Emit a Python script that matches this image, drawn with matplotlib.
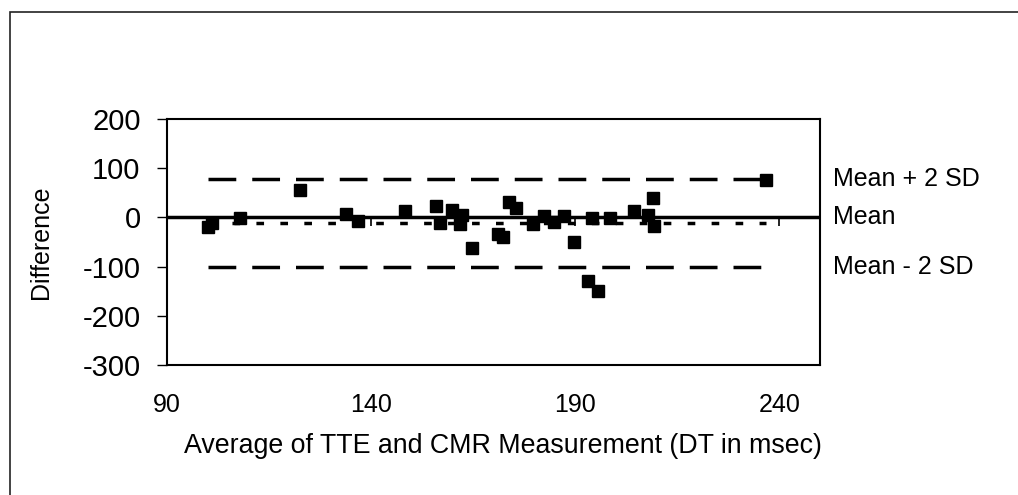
import numpy as np
import matplotlib
matplotlib.use('Agg')
import matplotlib.pyplot as plt
from matplotlib.patches import Rectangle
from matplotlib.transforms import blended_transform_factory

plt.rcParams['font.family'] = ['Liberation Sans', 'DejaVu Sans']
plt.rcParams['axes.unicode_minus'] = False  # plain hyphen as in the original

# Bland-Altman data: average of the two measurements vs difference
avg_dt = [100.0, 101.0, 108.0, 122.6, 133.9, 136.9, 148.2, 155.9, 156.9, 159.9,
          162.2, 161.8, 164.8, 171.2, 172.3, 173.7, 175.5, 179.8, 182.4, 184.8,
          187.2, 189.8, 193.1, 194.1, 195.6, 198.5, 204.5, 207.8, 209.0, 209.3,
          236.7]
diff_dt = [-20, -11, -2, 56, 7, -7, 12, 23, -11, 15,
           4, -14, -62, -34, -40, 31, 19, -13, 3, -10,
           3, -50, -129, -1, -149, -1, 13, 4, 39, -17,
           76]

mean_diff = -11
sd_diff = 44.5
x_ticks = [90, 140, 190, 240]
y_ticks = [-300, -200, -100, 0, 100, 200]
limit_labels = ['Mean + 2 SD', 'Mean', 'Mean - 2 SD']

fig = plt.figure(figsize=(10.18, 4.95), dpi=100)
ax = fig.add_axes([167 / 1018, 1 - 365 / 495, 653 / 1018, 246 / 495])

x0, x1 = min(avg_dt), max(avg_dt)
upper = mean_diff + 2 * sd_diff
lower = mean_diff - 2 * sd_diff

# limits of agreement and mean
lw = 2.5
ax.plot([x0, x1], [upper, upper], color='black', lw=lw, dashes=(8.0, 4.6), zorder=2)
ax.plot([x0, x1], [lower, lower], color='black', lw=lw, dashes=(8.0, 4.6), zorder=2)
ax.plot([x0, x1], [mean_diff, mean_diff], color='black', lw=lw, dashes=(2.2, 4.7), zorder=2)

# zero axis line with its tick marks
ax.axhline(0, color='black', lw=2.5, zorder=3)
ax.vlines(x_ticks, -17, 0, color='black', lw=1.2, zorder=3)

ax.plot(avg_dt, diff_dt, ls='none', marker='s', ms=9, color='black', zorder=4)

ax.set_xlim(90, 250)
ax.set_ylim(-300, 200)
ax.set_xticks(x_ticks)
ax.set_yticks(y_ticks)
ax.tick_params(axis='x', length=0, pad=20, labelsize=18)
ax.tick_params(axis='y', direction='out', length=7, width=1, pad=12, labelsize=21)
for s in ax.spines.values():
    s.set_linewidth(1.5)

ax.set_xlabel('Average of TTE and CMR Measurement (DT in msec)', fontsize=19.3)
ax.xaxis.set_label_coords(0.515, -0.278)
ax.set_ylabel('Difference', fontsize=18)
ax.yaxis.set_label_coords(-0.175, 0.5)

# labels on the right
tr = blended_transform_factory(ax.transAxes, ax.transData)
for lab, yv in zip(limit_labels, [upper, 0, lower]):
    ax.text(1.02, yv, lab, transform=tr, ha='left', va='center', fontsize=18)

# outer chart border (only left and top edge are inside the picture)
fig.add_artist(Rectangle((9.5 / 1018, -0.1), 1.2, 1.1 - 11.5 / 495,
                         transform=fig.transFigure, fill=False,
                         edgecolor='#222222', lw=1.2))

fig.savefig('out.png', dpi=100)
